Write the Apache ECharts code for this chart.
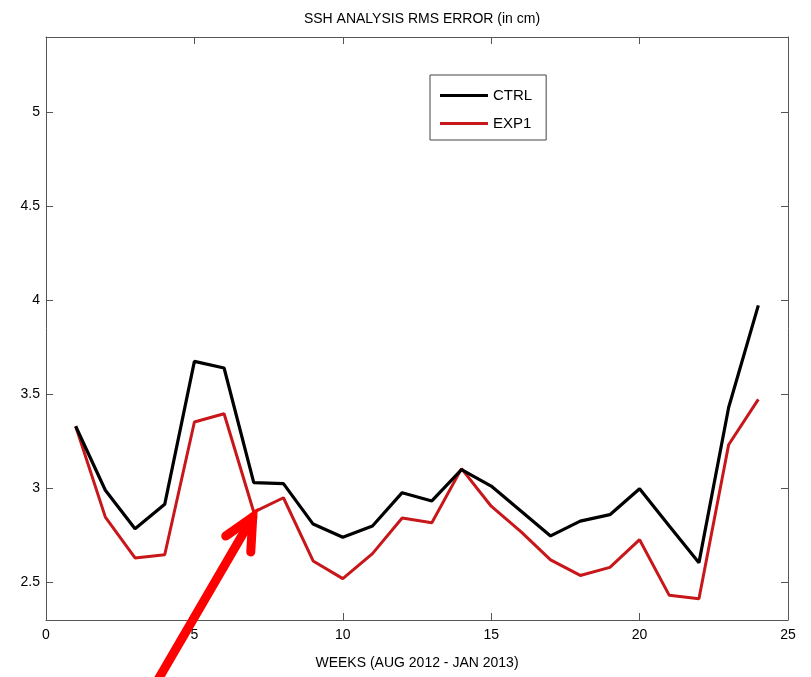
<!DOCTYPE html>
<html><head><meta charset="utf-8">
<script src="https://cdn.jsdelivr.net/npm/echarts@6/dist/echarts.min.js"></script>
<style>html,body{margin:0;padding:0;background:#fff}#c{width:811px;height:677px}</style>
</head><body><div id="c"></div>
<script>
const weeks = [1,2,3,4,5,6,7,8,9,10,11,12,13,14,15,16,17,18,19,20,21,22,23,24];
const ctrl  = [3.33,2.99,2.785,2.915,3.675,3.64,3.03,3.025,2.81,2.74,2.80,2.977,2.933,3.10,3.012,2.88,2.747,2.826,2.86,2.998,2.80,2.605,3.43,3.973];
const exp1  = [3.33,2.847,2.63,2.647,3.353,3.397,2.874,2.95,2.614,2.52,2.653,2.842,2.817,3.105,2.905,2.77,2.62,2.537,2.58,2.727,2.431,2.413,3.232,3.473];
const yTicks = [2.5,3,3.5,4,4.5,5];
const seriesNames = ['CTRL','EXP1'];
const titleText = 'SSH ANALYSIS RMS ERROR (in cm)';
const xName = 'WEEKS (AUG 2012 - JAN 2013)';

const FONT = '"Liberation Sans", Arial, sans-serif';
const frameColor = '#555';
const chart = echarts.init(document.getElementById('c'), null, {renderer:'canvas'});
const lineIcon = 'path://M0,0h0.01v0.01h-0.01zM0,5.5h48v3h-48zM0,14h0.01v0.01h-0.01z';

function xAx(pos, show){
  return {type:'value', position:pos, min:0, max:25, interval:5,
    axisLine:{show:true, onZero:false, lineStyle:{color:frameColor, width:1}},
    axisTick:{show:true, inside:true, length:7, lineStyle:{color:frameColor}},
    axisLabel:{show:show, margin:8, color:'#000', fontSize:14, fontFamily:FONT},
    splitLine:{show:false},
    name: show ? xName : '', nameLocation:'middle', nameGap:36,
    nameTextStyle:{color:'#000', fontSize:14, fontFamily:FONT}};
}
function yAx(pos, show){
  return {type:'value', position:pos, min:2.3, max:5.4,
    axisLine:{show:true, onZero:false, lineStyle:{color:frameColor, width:1}},
    axisTick:{show:true, inside:true, length:7, customValues:yTicks, lineStyle:{color:frameColor}},
    axisLabel:{show:show, margin:6, color:'#000', fontSize:14, fontFamily:FONT, customValues:yTicks,
      formatter: v => String(+v.toFixed(2))},
    splitLine:{show:false}};
}

chart.setOption({
  animation:false,
  backgroundColor:'#fff',
  title:{text:titleText, left:417, textAlign:'center', top:7,
    textStyle:{color:'#000', fontSize:14, fontWeight:'normal', fontFamily:FONT}},
  grid:{left:46, right:23, top:37, bottom:57, containLabel:false},
  legend:{orient:'vertical', left:430, top:75, padding:[13,14,9,10], itemGap:13,
    itemWidth:48, itemHeight:14, borderColor:'#444', borderWidth:1, backgroundColor:'#fff',
    data:seriesNames.map(n => ({name:n, icon:lineIcon})),
    textStyle:{color:'#000', fontSize:15, fontFamily:FONT}},
  xAxis:[xAx('bottom', true), xAx('top', false)],
  yAxis:[yAx('left', true), yAx('right', false)],
  series:[
    {name:seriesNames[0], type:'line', symbol:'none', data:weeks.map((w,i)=>[w,ctrl[i]]),
      lineStyle:{color:'#000', width:3.2}, itemStyle:{color:'#000'}, z:3},
    {name:seriesNames[1], type:'line', symbol:'none', data:weeks.map((w,i)=>[w,exp1[i]]),
      lineStyle:{color:'#c8171a', width:3}, itemStyle:{color:'#c8171a'}, z:2}
  ]
});

// Annotation arrow pointing at the EXP1 week-7 point
const tip = chart.convertToPixel({xAxisIndex:0, yAxisIndex:0}, [weeks[6], exp1[6]]);
const tx = tip[0] - 1, ty = tip[1] + 5;
chart.setOption({graphic:[
  {type:'line', shape:{x1:152, y1:690, x2:tx, y2:ty},
    style:{stroke:'#ff0000', lineWidth:9, lineCap:'round'}, z:100},
  {type:'polyline', shape:{points:[[tx-27, ty+19],[tx, ty],[tx-2, ty+35]]},
    style:{stroke:'#ff0000', lineWidth:9, lineCap:'round', lineJoin:'miter', fill:null}, z:100}
]});
</script></body></html>
